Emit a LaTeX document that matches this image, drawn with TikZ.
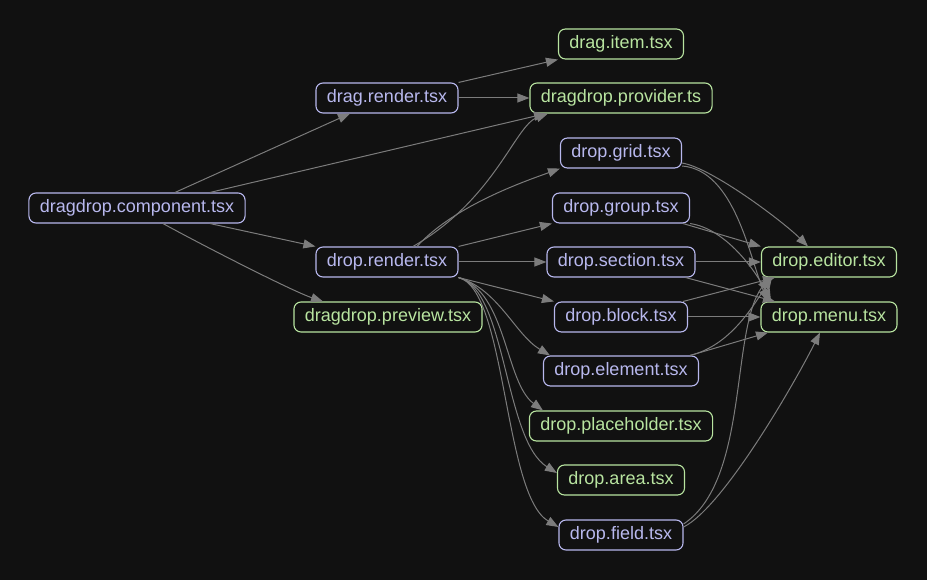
\documentclass[tikz,border=0pt]{standalone}
\usepackage{fontspec}
\setmainfont{Liberation Sans}
\usetikzlibrary{arrows.meta}
\definecolor{bgdark}{HTML}{111111}
\definecolor{lav}{HTML}{B8B8EE}
\definecolor{leafc}{HTML}{B8E4A0}
\definecolor{wire}{HTML}{7C7C7C}
\begin{document}
\begin{tikzpicture}[x=1pt,y=-1pt,
  file/.style={draw=lav,text=lav,line width=1.1pt,rounded corners=7pt,minimum height=30pt,inner xsep=11pt,inner ysep=0pt,font=\fontsize{18}{20}\selectfont},
  leaf/.style={file,draw=leafc,text=leafc},
  edge/.style={draw=wire,line width=1pt,-{Triangle[length=12pt,width=9pt]}}]
\fill[bgdark] (0,0) rectangle (927,580);
\useasboundingbox (0,0) rectangle (927,580);
\node[file] (comp) at (137,208) {dragdrop.component.tsx};
\node[file] (dragr) at (387,98) {drag.render.tsx};
\node[file] (dropr) at (387,262) {drop.render.tsx};
\node[leaf] (prev) at (388,317) {dragdrop.preview.tsx};
\node[leaf] (item) at (621,44) {drag.item.tsx};
\node[leaf] (prov) at (621,98) {dragdrop.provider.ts};
\node[file] (grid) at (621,153) {drop.grid.tsx};
\node[file] (group) at (621,208) {drop.group.tsx};
\node[file] (section) at (621,262) {drop.section.tsx};
\node[file] (block) at (621,317) {drop.block.tsx};
\node[file] (element) at (621,371) {drop.element.tsx};
\node[leaf] (place) at (621,426) {drop.placeholder.tsx};
\node[leaf] (area) at (621,480) {drop.area.tsx};
\node[file] (field) at (621,535) {drop.field.tsx};
\node[leaf] (editor) at (829,262) {drop.editor.tsx};
\node[leaf] (menu) at (829,317) {drop.menu.tsx};
\draw[edge] ([xshift=38pt]comp.north) -- ([xshift=-37pt]dragr.south);
\draw[edge] ([xshift=73pt]comp.north) -- ([xshift=-75pt]prov.south);
\draw[edge] ([xshift=73pt]comp.south) -- (dropr.north west);
\draw[edge] ([xshift=26pt]comp.south) .. controls +(40,22) and +(-30,-10) .. ([xshift=-65pt]prev.north);
\draw[edge] (dragr.north east) -- (item.south west);
\draw[edge] (dragr.east) -- (prov.west);
\draw[edge] ([xshift=26pt]dropr.north) .. controls +(82,-47) and +(-33,12) .. ([xshift=-73pt]prov.south);
\draw[edge] ([xshift=30pt]dropr.north) .. controls +(38,-42) and +(-30,11) .. (grid.south west);
\draw[edge] (dropr.north east) -- (group.south west);
\draw[edge] (dropr.east) -- (section.west);
\draw[edge] (dropr.south east) -- (block.north west);
\draw[edge] (dropr.south east) .. controls +(40,12) and +(-35,-21) .. ([xshift=-71pt]element.north);
\draw[edge] (dropr.south east) .. controls +(48,14) and +(-38,-28) .. ([xshift=-78pt]place.north);
\draw[edge] (dropr.south east) .. controls +(48,12) and +(-53,-33) .. ([yshift=7pt]area.west);
\draw[edge] (dropr.south east) .. controls +(48,12) and +(-55,-32) .. ([yshift=8pt]field.west);
\draw[edge] ([yshift=-10pt]grid.east) .. controls +(30,5) and +(-25,-25) .. ([xshift=-21pt]editor.north);
\draw[edge] ([yshift=-13pt]grid.east) .. controls +(53,4) and +(-18,-42) .. ([xshift=-61pt]menu.north);
\draw[edge] ([xshift=-7pt]group.south east) -- (editor.north west);
\draw[edge] (group.south east) .. controls +(35,5) and +(-16,-32) .. ([xshift=-58pt]menu.north);
\draw[edge] (section.east) -- (editor.west);
\draw[edge] ([xshift=-10pt]section.south east) -- ([xshift=-54pt]menu.north);
\draw[edge] ([xshift=-5pt]block.north east) -- ([xshift=-54pt]editor.south);
\draw[edge] (block.east) -- (menu.west);
\draw[edge] ([xshift=-9pt]element.north east) .. controls +(40,-10) and +(-20,30) .. ([xshift=-57pt]editor.south);
\draw[edge] ([xshift=-9pt]element.north east) -- ([xshift=-61pt]menu.south);
\draw[edge] ([yshift=11pt]field.east) .. controls +(66,-44) and +(-39,53) .. ([xshift=-60pt]editor.south);
\draw[edge] ([yshift=8pt]field.east) .. controls +(40,-20) and +(-25,50) .. ([xshift=-9pt]menu.south);
\end{tikzpicture}
\end{document}
